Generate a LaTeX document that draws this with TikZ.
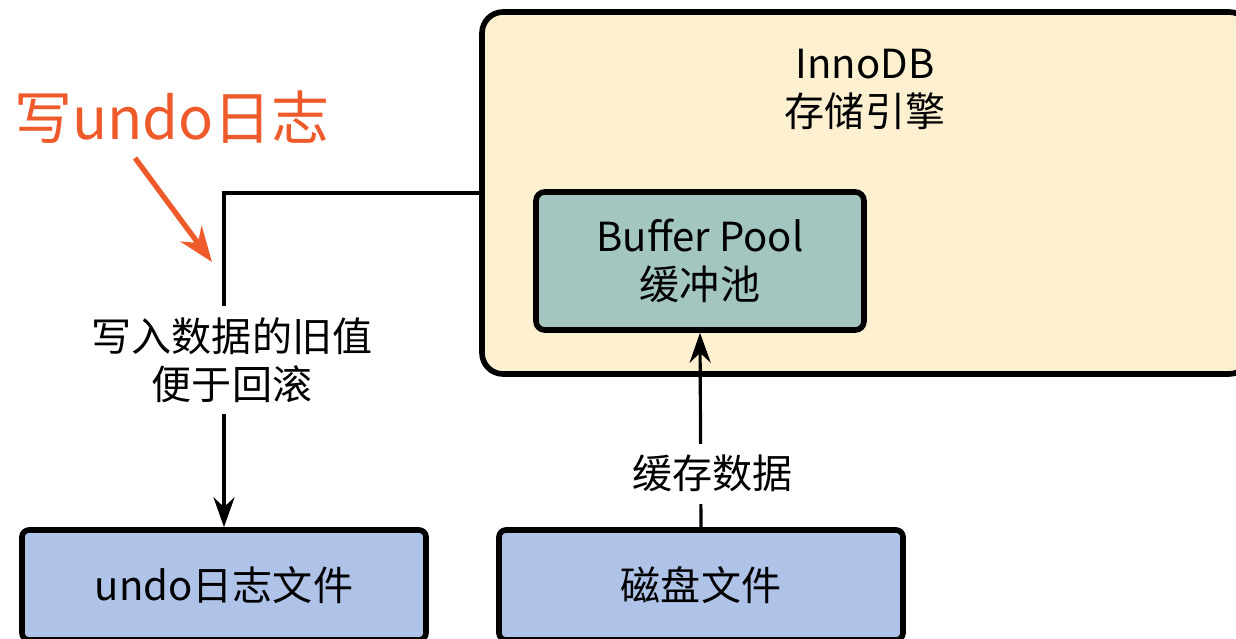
\documentclass[tikz,border=0pt]{standalone}
\usepackage{fontspec}
\setmainfont{Noto Sans CJK SC}
\usetikzlibrary{arrows.meta,positioning}
\definecolor{cream}{HTML}{FCF0D0}
\definecolor{poolgreen}{HTML}{A3C6C0}
\definecolor{fileblue}{HTML}{AEC3E7}
\definecolor{notered}{HTML}{EE5A2A}

\begin{document}
\begin{tikzpicture}[>={Stealth[length=8.5pt,width=6pt]},
  txt/.style={font=\fontsize{11.4}{13.7}\selectfont,align=center},
  box/.style={draw,line width=1.6pt,rounded corners=2pt,fill=fileblue,
    minimum width=4.04cm,minimum height=1.1cm,txt},
  link/.style={->,line width=0.9pt}]
  \useasboundingbox (0,0) rectangle (12.36,6.38);
  \clip (0,0) rectangle (12.36,6.38);
  % storage engine with its buffer pool
  \node[draw,line width=1.6pt,rounded corners=6pt,fill=cream,
    minimum width=7.68cm,minimum height=3.62cm] (innodb) at (8.66,4.45) {};
  \node[txt] (innotitle) at (8.65,5.49) {InnoDB\\存储引擎};
  \node[box,fill=poolgreen,rounded corners=2.5pt,minimum width=3.28cm,
    minimum height=1.38cm] (pool) at (7.00,3.77) {Buffer Pool\\缓冲池};
  % files on disk
  \node[box] (undo) at (2.24,0.53) {undo日志文件};
  \node[box] (disk) at (7.01,0.53) {磁盘文件};
  \draw[link] (innodb.west) -| (undo.north)
    node[pos=0.75,fill=white,txt,xshift=0.08cm] {写入数据的旧值\\便于回滚};
  \draw[link] (disk.north) -- (pool.south)
    node[pos=0.275,fill=white,txt,xshift=0.12cm] {缓存数据};
  % annotation
  \node[text=notered,font=\fontsize{16.5}{19}\selectfont] (note) at (1.72,5.21) {写undo日志};
  \coordinate (notestart) at (1.35,4.80);
  \coordinate (notetip) at (2.12,3.76);
  \draw[->,>={Stealth[length=10pt,width=7.5pt]},notered,line width=1.5pt] (notestart) -- (notetip);
\end{tikzpicture}
\end{document}
